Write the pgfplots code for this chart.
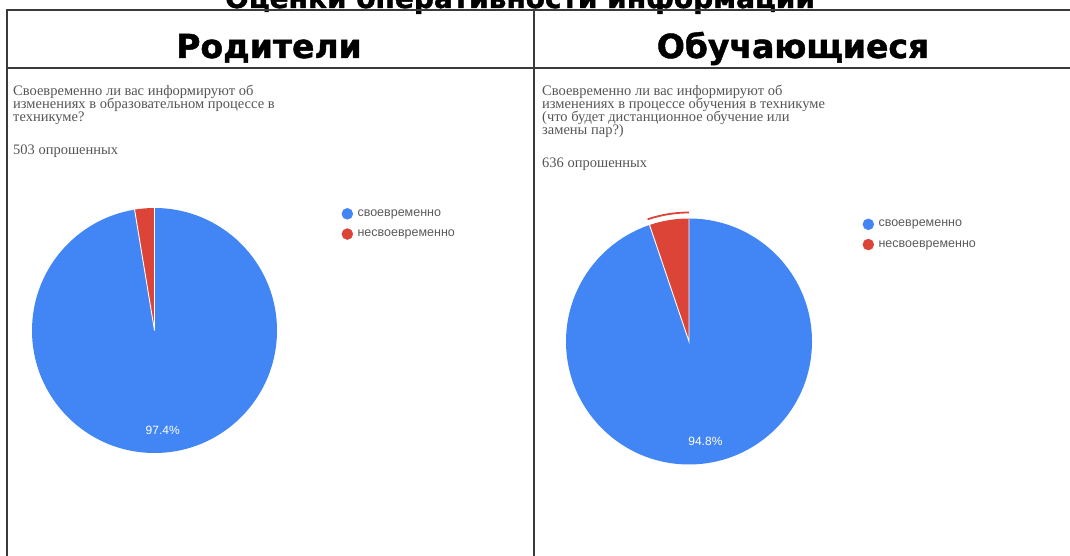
\documentclass[border=0pt]{standalone}
\usepackage{fontspec}
\usepackage{pgfplots}
\usepackage{pgfplotstable}
\pgfplotsset{compat=1.18}
\setmainfont{Liberation Serif}
\newfontfamily\headfont[BoldFeatures={FakeBold=1.4}]{DejaVu Sans}
\newfontfamily\sansfont{Liberation Sans}

\definecolor{gblue}{HTML}{4285F4}
\definecolor{gred}{HTML}{DB4437}
\definecolor{rulecol}{HTML}{3A3A3A}
\definecolor{qtext}{HTML}{555555}
\definecolor{legtext}{HTML}{5A5A5A}

% shares in percent, in drawing order (clockwise from 12 o'clock)
\pgfplotstableread{
share
97.4
2.6
}\parentsdata
\pgfplotstableread{
share
94.8
5.2
}\studentsdata

\pgfplotsset{
  pie/.style={
    scale only axis, width=#1, height=#1,
    xmin=-1, xmax=1, ymin=-1, ymax=1,
    hide axis, clip=false,
    legend cell align=left,
    legend image code/.code={\fill[##1] (0pt,0pt) circle (5.5pt);
      \path (8pt,0pt);},
    legend style={draw=none, fill=none, inner sep=0pt,
      font=\sansfont\fontsize{12.5}{14}\selectfont\color{legtext},
      row sep=8pt, anchor=north west},
  },
}

\begin{document}
\begin{tikzpicture}[x=1pt,y=1pt]
\useasboundingbox (0,0) rectangle (1070,556);
\clip (0,0) rectangle (1070,556);

% title (cut off by the top edge)
\node[anchor=base, inner sep=0pt, font=\headfont\bfseries\fontsize{28}{30}\selectfont]
  at (520,548) {Оценки оперативности информации};

% table rules
\draw[rulecol, line width=1.4pt] (7,-5) -- (7,546) -- (1080,546);
\draw[rulecol, line width=1.4pt] (7,488) -- (1080,488);
\draw[rulecol, line width=1.4pt] (534,-5) -- (534,546);

% column headers
\node[anchor=base, inner sep=0pt, font=\headfont\bfseries\fontsize{33}{36}\selectfont]
  at (269,498) {Родители};
\node[anchor=base, inner sep=0pt, font=\headfont\bfseries\fontsize{33}{36}\selectfont]
  at (793,498) {Обучающиеся};

% question texts
\begin{scope}[every node/.style={anchor=base west, inner sep=0pt, text=qtext,
    font=\fontsize{14.5}{13}\selectfont}]
\node at (13,460) {Своевременно ли вас информируют об};
\node at (13,447) {изменениях в образовательном процессе в};
\node at (13,434) {техникуме?};
\node at (13,401) {503 опрошенных};

\node at (542,460) {Своевременно ли вас информируют об};
\node at (542,447) {изменениях в процессе обучения в техникуме};
\node at (542,434) {(что будет дистанционное обучение или};
\node at (542,421) {замены пар?)};
\node at (542,388) {636 опрошенных};
\end{scope}

% angles from the data
\pgfplotstablegetelem{0}{share}\of\parentsdata
\let\pA\pgfplotsretval
\pgfmathsetmacro\pAng{3.6*\pA}
\pgfmathsetmacro\pMid{90-1.8*\pA}
\pgfplotstablegetelem{0}{share}\of\studentsdata
\let\sA\pgfplotsretval
\pgfmathsetmacro\sAng{3.6*\sA}
\pgfmathsetmacro\sMid{90-1.8*\sA}

% parents pie
\begin{axis}[pie=245pt, at={(154.5pt,225.5pt)}, anchor=origin,
    legend style={at={(axis description cs:1.263,1.002)}}]
\addlegendimage{gblue}\addlegendentry{своевременно}
\addlegendimage{gred}\addlegendentry{несвоевременно}
\fill[gblue] (axis cs:0,0) -- (axis cs:0,1)
  arc[start angle=90, delta angle=-\pAng, radius=122.5pt] -- cycle;
\fill[gred] (axis cs:0,0) -- (axis cs:0,1)
  arc[start angle=90, delta angle=360-\pAng, radius=122.5pt] -- cycle;
\draw[white, line width=0.9pt] (axis cs:0,1) -- (axis cs:0,0)
  -- (axis cs:{cos(90-\pAng)},{sin(90-\pAng)});
\node[text=white, font=\sansfont\fontsize{12}{14}\selectfont]
  at (axis cs:{0.82*cos(\pMid)},{0.82*sin(\pMid)}) {\pA\%};
\end{axis}

% students pie
\begin{axis}[pie=246pt, at={(689pt,214.5pt)}, anchor=origin,
    legend style={at={(axis description cs:1.205,1.002)}}]
\addlegendimage{gblue}\addlegendentry{своевременно}
\addlegendimage{gred}\addlegendentry{несвоевременно}
\fill[gblue] (axis cs:0,0) -- (axis cs:0,1)
  arc[start angle=90, delta angle=-\sAng, radius=123pt] -- cycle;
\fill[gred] (axis cs:0,0) -- (axis cs:0,1)
  arc[start angle=90, delta angle=360-\sAng, radius=123pt] -- cycle;
\draw[white, line width=0.9pt] (axis cs:0,1) -- (axis cs:0,0)
  -- (axis cs:{cos(90-\sAng)},{sin(90-\sAng)});
% highlight ring round the selected slice
\draw[gred, line width=1.8pt] (axis cs:0,{129/123})
  arc[start angle=90, delta angle=360-\sAng, radius=129pt];
\node[text=white, font=\sansfont\fontsize{12}{14}\selectfont]
  at (axis cs:{0.82*cos(\sMid)},{0.82*sin(\sMid)}) {\sA\%};
\end{axis}
\end{tikzpicture}
\end{document}
